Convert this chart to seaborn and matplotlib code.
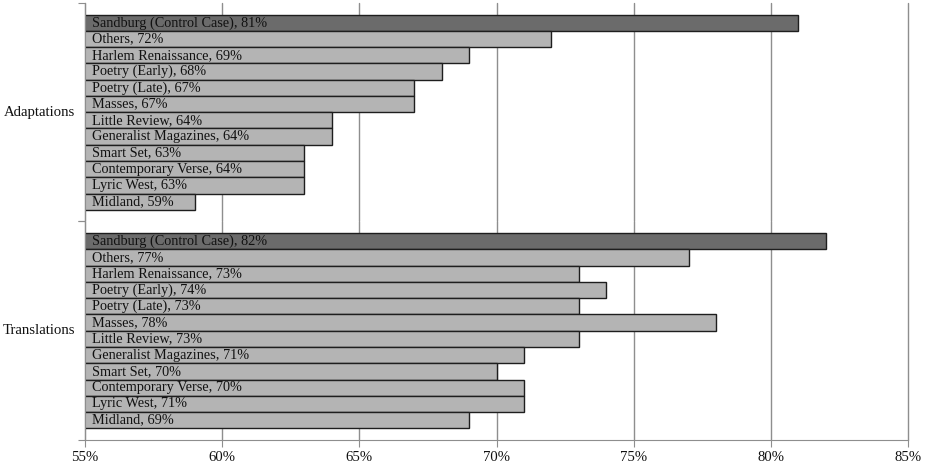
import pandas as pd
import numpy as np
import matplotlib
matplotlib.use('Agg')
import matplotlib.pyplot as plt
import seaborn as sns

# outlets, top to bottom within each group
outlets = ['Sandburg (Control Case)', 'Others', 'Harlem Renaissance', 'Poetry (Early)',
           'Poetry (Late)', 'Masses', 'Little Review', 'Generalist Magazines',
           'Smart Set', 'Contemporary Verse', 'Lyric West', 'Midland']

# bar lengths as drawn, and the percentages printed in the labels
adapt_values = [81, 72, 69, 68, 67, 67, 64, 64, 63, 63, 63, 59]
adapt_labels = [81, 72, 69, 68, 67, 67, 64, 64, 63, 64, 63, 59]
trans_values = [82, 77, 73, 74, 73, 78, 73, 71, 70, 71, 71, 69]
trans_labels = [82, 77, 73, 74, 73, 78, 73, 71, 70, 70, 71, 69]

groups = ['Adaptations', 'Translations']
x_ticks = [55, 60, 65, 70, 75, 80, 85]

sns.set_style('white')
plt.rcParams['font.family'] = ['Liberation Serif', 'DejaVu Serif']

palette = {'control': '#6b6b6b', 'other': '#b4b4b4'}
grid_col = '#8e8e8e'
margin = 0.72

fig, axes = plt.subplots(2, 1, figsize=(9.27, 4.66), dpi=100, sharex=True)
fig.subplots_adjust(left=0.0917, right=0.9795, top=0.9936, bottom=0.0558, hspace=0)

data = [(groups[0], adapt_values, adapt_labels), (groups[1], trans_values, trans_labels)]

for k, (ax, (grp, vals, labs)) in enumerate(zip(axes, data)):
    d = pd.DataFrame({'outlet': outlets, 'value': vals, 'label': labs})
    d['kind'] = np.where(d['outlet'].str.startswith('Sandburg'), 'control', 'other')
    sns.barplot(data=d, x='value', y='outlet', hue='kind', palette=palette, order=outlets,
                width=1, edgecolor='#1e1e1e', linewidth=1, legend=False, orient='h', ax=ax)

    for i, (name, lab) in enumerate(zip(outlets, labs)):
        ax.text(55.25, i, f'{name}, {lab}%', va='center', ha='left',
                fontsize=10.3, color='#111111')

    ax.set_xlim(55, 85)
    ax.set_xticks(x_ticks)
    ax.set_xticklabels([f'{t}%' for t in x_ticks])
    lo, hi = len(outlets) - 0.5 + margin, -0.5 - margin
    ax.set_yticks([lo, hi])
    ax.set_yticklabels(['', ''])
    ax.set_ylim(lo, hi)

    ax.grid(axis='x', color=grid_col, linewidth=1)
    ax.grid(axis='y', visible=False)
    ax.set_axisbelow(True)
    # keep the 85% line at the edge fully visible
    for gl in ax.xaxis.get_gridlines():
        gl.set_clip_on(False)

    ax.set_xlabel('')
    ax.set_ylabel(grp, rotation=0, ha='right', va='center', fontsize=10.6, color='#111111')
    ax.yaxis.set_label_coords(-0.012, 0.5)

    for s in ['top', 'right']:
        ax.spines[s].set_visible(False)
    ax.spines['left'].set_color(grid_col)
    ax.spines['bottom'].set_color(grid_col)
    ax.tick_params(axis='y', left=True, length=5, color=grid_col)
    if k == 0:
        ax.spines['bottom'].set_visible(False)
        ax.tick_params(axis='x', bottom=False, labelbottom=False)
    else:
        ax.tick_params(axis='x', bottom=True, length=5, color=grid_col,
                       labelsize=10.6, labelcolor='#111111', pad=3)

fig.savefig('out.png', dpi=100)
